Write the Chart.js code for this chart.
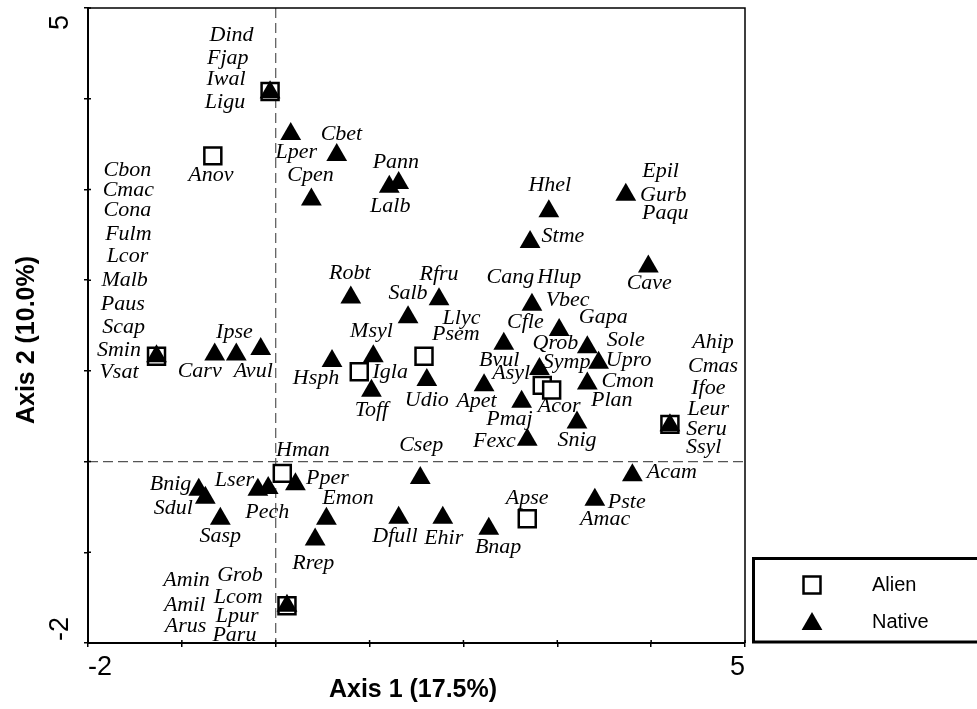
<!DOCTYPE html>
<html>
<head>
<meta charset="utf-8">
<script src="https://cdn.jsdelivr.net/npm/chart.js"></script>
<style>
  html, body { margin: 0; padding: 0; background: #fff; }
  #wrap { width: 977px; height: 709px; }
</style>
</head>
<body>
<div id="wrap"><canvas id="ord" width="977" height="709"></canvas></div>
<script>
// Ordination scores, axis 1 / axis 2
const alienX = [-0.06, -0.67, -1.27, 0.89, 1.58, 2.84, 2.94, 4.20, 0.07, 2.68, 0.12];
const alienY = [4.08, 3.37, 1.16, 0.99, 1.16, 0.84, 0.79, 0.41, -0.13, -0.63, -1.59];

const nativeX = [-0.06, 0.16, 0.65, 0.38, 1.21, 1.31, 2.91, 3.73, 2.71, 3.97,
                 0.80, 1.41, 1.74, 2.73, 3.02, 2.43, 3.32, 3.44, 2.81, 3.32,
                 2.22, 2.62, 3.21, 2.68, 4.20, 1.04, 0.60, 1.02, 1.61, -1.27,
                 -0.65, -0.42, -0.16, 1.54, 3.80, 3.40, -0.82, -0.75, -0.59, -0.19,
                 -0.08, 0.21, 0.54, 0.42, 1.31, 1.78, 2.27, 0.12];
const nativeY = [4.07, 3.61, 3.38, 2.89, 3.03, 3.07, 2.76, 2.94, 2.42, 2.15,
                 1.81, 1.59, 1.79, 1.73, 1.45, 1.30, 1.26, 1.09, 1.02, 0.86,
                 0.84, 0.66, 0.43, 0.24, 0.40, 1.16, 1.11, 0.78, 0.90, 1.16,
                 1.18, 1.18, 1.24, -0.18, -0.15, -0.42, -0.31, -0.40, -0.63, -0.31,
                 -0.29, -0.25, -0.63, -0.86, -0.62, -0.62, -0.74, -1.59];

// Species abbreviations and where their names sit (axis units)
const speciesNames = ['Dind', 'Fjap', 'Iwal', 'Ligu', 'Lper', 'Anov', 'Cbon', 'Cmac', 'Cona', 'Fulm',
  'Lcor', 'Malb', 'Paus', 'Scap', 'Smin', 'Vsat', 'Ipse', 'Carv', 'Avul', 'Hsph',
  'Hman', 'Cpen', 'Cbet', 'Pann', 'Lalb', 'Hhel', 'Epil', 'Gurb', 'Paqu', 'Stme',
  'Robt', 'Rfru', 'Salb', 'Cang', 'Hlup', 'Vbec', 'Llyc', 'Psem', 'Msyl', 'Cfle',
  'Gapa', 'Qrob', 'Sole', 'Bvul', 'Symp', 'Upro', 'Igla', 'Asyl', 'Cmon', 'Udio',
  'Apet', 'Acor', 'Plan', 'Toff', 'Pmaj', 'Snig', 'Fexc', 'Csep', 'Ahip', 'Cmas',
  'Ifoe', 'Leur', 'Seru', 'Ssyl', 'Cave', 'Pper', 'Emon', 'Acam', 'Apse', 'Pste',
  'Amac', 'Dfull', 'Ehir', 'Bnap', 'Rrep', 'Bnig', 'Sdul', 'Lser', 'Pech', 'Sasp',
  'Amin', 'Grob', 'Amil', 'Lcom', 'Arus', 'Lpur', 'Paru'];
const speciesX = [-0.47, -0.51, -0.53, -0.54, 0.22, -0.69, -1.58, -1.57, -1.58, -1.57,
  -1.58, -1.61, -1.63, -1.62, -1.67, -1.67, -0.44, -0.81, -0.24, 0.43,
  0.29, 0.37, 0.70, 1.28, 1.22, 2.92, 4.10, 4.13, 4.15, 3.06,
  0.79, 1.74, 1.41, 2.50, 3.02, 3.11, 1.98, 1.92, 1.02, 2.66,
  3.49, 2.98, 3.73, 2.38, 3.10, 3.76, 1.22, 2.51, 3.75, 1.61,
  2.14, 3.02, 3.58, 1.02, 2.49, 3.21, 2.33, 1.55, 4.66, 4.66,
  4.61, 4.61, 4.59, 4.56, 3.98, 0.55, 0.77, 4.22, 2.68, 3.74,
  3.51, 1.27, 1.79, 2.37, 0.40, -1.12, -1.09, -0.44, -0.09, -0.59,
  -0.95, -0.38, -0.97, -0.40, -0.96, -0.41, -0.44];
const speciesY = [4.70, 4.45, 4.21, 3.96, 3.41, 3.16, 3.21, 2.99, 2.77, 2.51,
  2.26, 2.00, 1.74, 1.48, 1.23, 0.98, 1.43, 1.00, 1.00, 0.92,
  0.13, 3.16, 3.61, 3.30, 2.82, 3.05, 3.20, 2.94, 2.74, 2.48,
  2.08, 2.06, 1.86, 2.03, 2.03, 1.78, 1.58, 1.40, 1.44, 1.54,
  1.59, 1.31, 1.34, 1.12, 1.09, 1.12, 0.99, 0.97, 0.89, 0.68,
  0.67, 0.61, 0.68, 0.57, 0.47, 0.24, 0.22, 0.18, 1.32, 1.05,
  0.81, 0.58, 0.36, 0.16, 1.97, -0.18, -0.40, -0.12, -0.40, -0.45,
  -0.64, -0.82, -0.84, -0.94, -1.12, -0.25, -0.51, -0.21, -0.56, -0.82,
  -1.31, -1.25, -1.58, -1.49, -1.82, -1.71, -1.91];

const xTickValues = [-2, 5];
const xTickLabels = ['-2', '5'];
const yTickValues = [5, -2];
const yTickLabels = ['5', '-2'];
const groupNames = ['Alien', 'Native'];

const toPoints = (xs, ys) => xs.map((v, i) => ({ x: v, y: ys[i] }));

const SANS = '"Liberation Sans", Arial, sans-serif';
const SERIF = '"Liberation Serif", "Times New Roman", serif';

const alienStyle = { pointStyle: 'rect', radius: 12, borderWidth: 2.5, fill: '#ffffff', stroke: '#000000' };
const nativeStyle = { pointStyle: 'triangle', radius: 12, borderWidth: 0, fill: '#000000', stroke: '#000000' };

const overlay = {
    id: 'overlay',
    beforeDatasetsDraw(chart) {
        const { ctx, chartArea: a, scales: { x, y } } = chart;
        const x0 = x.getPixelForValue(0);
        const y0 = y.getPixelForValue(0);
        ctx.save();
        ctx.strokeStyle = '#555';
        ctx.lineWidth = 1.2;
        ctx.setLineDash([10, 5]);
        ctx.beginPath();
        ctx.moveTo(x0, a.top);
        ctx.lineTo(x0, a.bottom);
        ctx.moveTo(a.left, y0);
        ctx.lineTo(a.right, y0);
        ctx.stroke();
        ctx.restore();
    },
    afterDatasetsDraw(chart) {
        const { ctx, scales: { x, y } } = chart;
        ctx.save();
        ctx.fillStyle = '#000';
        ctx.font = 'italic 22px ' + SERIF;
        ctx.textAlign = 'center';
        ctx.textBaseline = 'middle';
        speciesNames.forEach((name, i) => {
            ctx.fillText(name, x.getPixelForValue(speciesX[i]), y.getPixelForValue(speciesY[i]));
        });
        ctx.restore();
    },
    afterDraw(chart) {
        const { ctx, chartArea: a, scales: { x, y } } = chart;
        ctx.save();

        // top and right sides of the frame
        ctx.strokeStyle = '#000';
        ctx.lineWidth = 1.5;
        ctx.beginPath();
        ctx.moveTo(a.left, a.top);
        ctx.lineTo(a.right, a.top);
        ctx.lineTo(a.right, a.bottom);
        ctx.stroke();

        // small inward half of each tick
        ctx.lineWidth = 1.5;
        ctx.beginPath();
        for (let v = -2; v <= 5; v++) {
            const px = x.getPixelForValue(v);
            ctx.moveTo(px, a.bottom);
            ctx.lineTo(px, a.bottom - 3);
            const py = y.getPixelForValue(v);
            ctx.moveTo(a.left, py);
            ctx.lineTo(a.left + 3, py);
        }
        ctx.stroke();

        // end tick labels
        ctx.fillStyle = '#000';
        ctx.font = '27px ' + SANS;
        ctx.textBaseline = 'middle';
        xTickValues.forEach((v, i) => {
            ctx.textAlign = i === 0 ? 'left' : 'right';
            ctx.fillText(xTickLabels[i], x.getPixelForValue(v), a.bottom + 25);
        });
        yTickValues.forEach((v, i) => {
            ctx.save();
            ctx.translate(61, y.getPixelForValue(v) + (i === 0 ? 7 : -2));
            ctx.rotate(-Math.PI / 2);
            ctx.textAlign = i === 0 ? 'right' : 'left';
            ctx.fillText(yTickLabels[i], 0, 0);
            ctx.restore();
        });

        // axis titles
        ctx.font = 'bold 25px ' + SANS;
        ctx.textAlign = 'center';
        ctx.fillText('Axis 1 (17.5%)', 413, 690);
        ctx.save();
        ctx.translate(27, 340);
        ctx.rotate(-Math.PI / 2);
        ctx.fillText('Axis 2 (10.0%)', 0, 0);
        ctx.restore();

        // legend box
        ctx.lineWidth = 3;
        ctx.strokeStyle = '#000';
        ctx.strokeRect(753.5, 558.5, 240, 83.5);
        [alienStyle, nativeStyle].forEach((s, i) => {
            const cy = 585 + i * 37;
            ctx.fillStyle = s.fill;
            ctx.strokeStyle = s.stroke;
            ctx.lineWidth = s.borderWidth;
            Chart.helpers.drawPoint(ctx, { pointStyle: s.pointStyle, radius: s.radius, borderWidth: s.borderWidth, rotation: 0 }, 812, cy + (i === 1 ? 2 : 0));
            ctx.fillStyle = '#000';
            ctx.font = '20px ' + SANS;
            ctx.textAlign = 'left';
            ctx.fillText(groupNames[i], 872, cy);
        });
        ctx.restore();
    }
};

new Chart(document.getElementById('ord'), {
    type: 'scatter',
    plugins: [overlay],
    data: {
        datasets: [
            {
                label: groupNames[1],
                data: toPoints(nativeX, nativeY),
                pointStyle: nativeStyle.pointStyle,
                pointRadius: nativeStyle.radius,
                backgroundColor: nativeStyle.fill,
                borderColor: nativeStyle.stroke,
                borderWidth: 0,
                order: 1,
            },
            {
                label: groupNames[0],
                data: toPoints(alienX, alienY),
                pointStyle: alienStyle.pointStyle,
                pointRadius: alienStyle.radius,
                backgroundColor: alienStyle.fill,
                borderColor: alienStyle.stroke,
                borderWidth: alienStyle.borderWidth,
                order: 2,
            },
        ],
    },
    options: {
        responsive: false,
        animation: false,
        events: [],
        layout: { autoPadding: false, padding: { top: 8, right: 232, left: 0, bottom: 0 } },
        plugins: {
            legend: { display: false },
            tooltip: { enabled: false },
        },
        scales: {
            x: {
                type: 'linear',
                min: -2,
                max: 5,
                ticks: { display: false, stepSize: 1 },
                grid: { display: true, drawOnChartArea: false, color: '#000', lineWidth: 1.5, tickLength: 4 },
                border: { display: true, color: '#000', width: 2 },
                afterFit: (s) => { s.height = 66; s.paddingLeft = 0; s.paddingRight = 0; },
            },
            y: {
                type: 'linear',
                min: -2,
                max: 5,
                ticks: { display: false, stepSize: 1 },
                grid: { display: true, drawOnChartArea: false, color: '#000', lineWidth: 1.5, tickLength: 4 },
                border: { display: true, color: '#000', width: 2 },
                afterFit: (s) => { s.width = 88; s.paddingTop = 0; s.paddingBottom = 0; },
            },
        },
    },
});
</script>
</body>
</html>
